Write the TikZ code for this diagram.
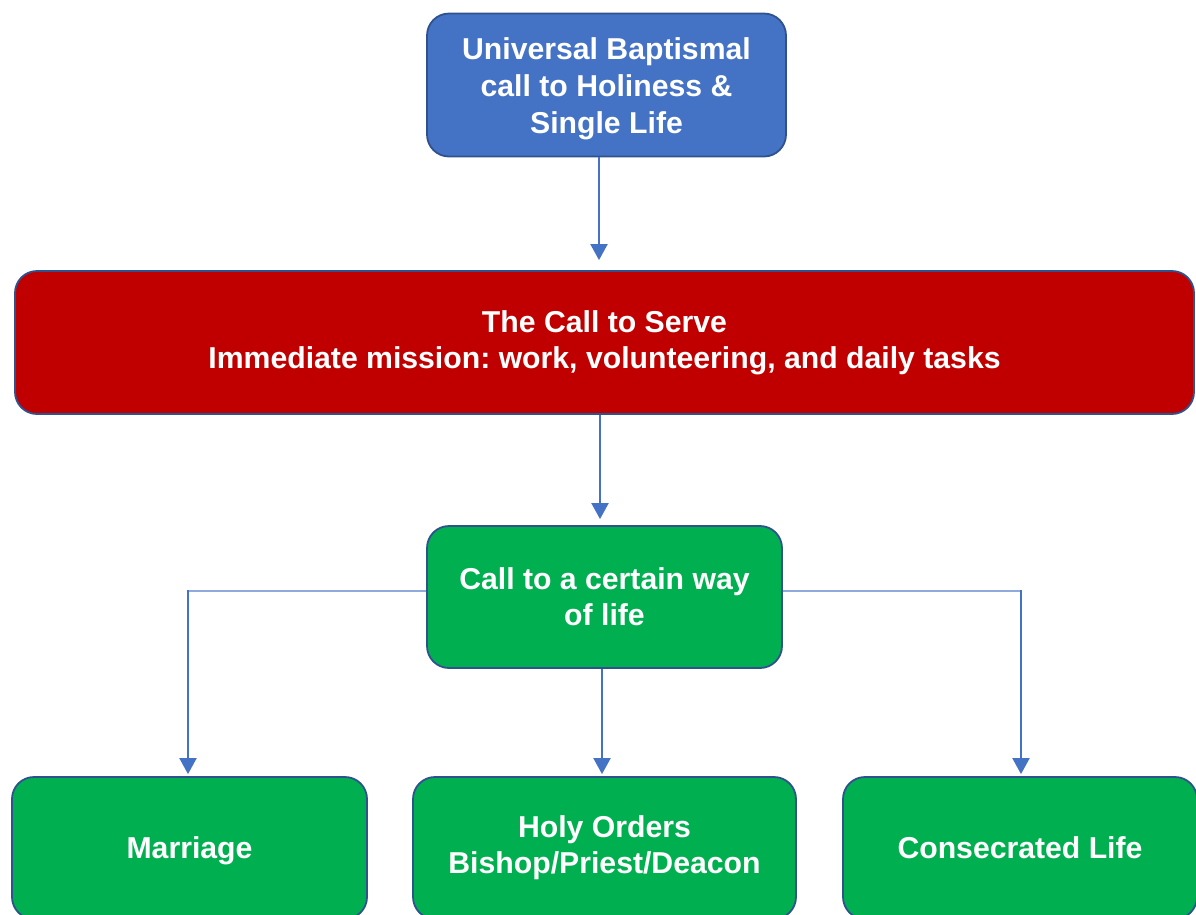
\documentclass[tikz,border=0pt]{standalone}
\usepackage{fontspec}
\setmainfont{Liberation Sans}
\usetikzlibrary{arrows.meta}
\frenchspacing
\definecolor{bfill}{HTML}{4472C4}
\definecolor{bord}{HTML}{2F528F}
\definecolor{rfill}{HTML}{C00000}
\definecolor{gfill}{HTML}{00B050}
\definecolor{arr}{HTML}{4472C4}
\definecolor{arrlight}{HTML}{8FAADC}
\begin{document}
\begin{tikzpicture}[x=1pt,y=-1pt,
  box/.style={draw=bord, line width=1.8pt, rounded corners=22pt, text=white,
    font=\fontsize{30.2}{36}\selectfont\bfseries\frenchspacing, align=center, inner sep=0pt},
  conn/.style={draw=arr, line width=2pt, -{Triangle[width=17pt,length=16pt]}},
  hline/.style={draw=arrlight, line width=1.8pt}]
\useasboundingbox (0,0) rectangle (1196,914);
\clip (0,0) rectangle (1196,914);

\node[box, fill=bfill, minimum width=359pt, minimum height=143pt] (top) at (606.5,85)
  {\raisebox{-4pt}[\height][\depth]{\begin{tabular}{@{}c@{}}Universal Baptismal\\[1pt]call to Holiness \&\\[1pt]Single Life\end{tabular}}};
\node[box, fill=rfill, minimum width=1179pt, minimum height=143pt] (red) at (604.5,342.5)
  {The Call to Serve\\Immediate mission: work, volunteering, and daily tasks};
\node[box, fill=gfill, minimum width=355pt, minimum height=142pt] (mid) at (604.5,597)
  {Call to a certain way\\of life};
\node[box, fill=gfill, minimum width=355pt, minimum height=142pt] (marr) at (189.5,848)
  {\raisebox{-3pt}[\height][\depth]{Marriage}};
\node[box, fill=gfill, minimum width=383pt, minimum height=142pt] (holy) at (604.5,848)
  {Holy Orders\\Bishop/Priest/Deacon};
\node[box, fill=gfill, minimum width=354pt, minimum height=142pt] (cons) at (1020,848)
  {Consecrated Life};

\coordinate (a1) at (599,0);
\coordinate (a2) at (600,0);
\coordinate (a3) at (602,0);
\coordinate (ly) at (0,591);
\coordinate (ml) at (188,0);
\coordinate (mr) at (1021,0);
\coordinate (cl) at (ly -| ml);
\coordinate (cr) at (ly -| mr);

\draw[conn, shorten >=10pt] (top.south -| a1) -- (red.north -| a1);
\draw[conn, shorten >=6pt] (red.south -| a2) -- (mid.north -| a2);
\draw[conn, shorten >=2pt] (mid.south -| a3) -- (holy.north -| a3);
\draw[hline] (mid.west |- ly) -- (cl);
\draw[conn, shorten >=2pt] ([yshift=0.9pt]cl) -- (marr.north -| ml);
\draw[hline] (mid.east |- ly) -- (cr);
\draw[conn, shorten >=2pt] ([yshift=0.9pt]cr) -- (cons.north -| mr);
\end{tikzpicture}
\end{document}
